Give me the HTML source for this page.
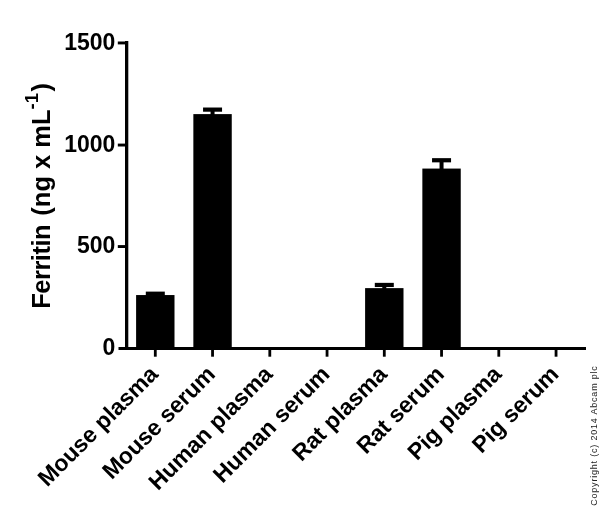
<!DOCTYPE html><html><head><meta charset="utf-8"><style>html,body{margin:0;padding:0;background:#fff}svg{display:block}text{font-family:"Liberation Sans",Arial,sans-serif;font-weight:bold;fill:#000}</style></head><body>
<svg width="600" height="518" viewBox="0 0 600 518">
<rect width="600" height="518" fill="#fff"/>
<rect x="125" y="41" width="3.3" height="309" fill="#000"/>
<rect x="118.5" y="347" width="467.5" height="3" fill="#000"/>
<rect x="117.8" y="245.10" width="8" height="2.9" fill="#000"/>
<rect x="117.8" y="143.60" width="8" height="2.9" fill="#000"/>
<rect x="117.8" y="41.50" width="8" height="2.9" fill="#000"/>
<text x="115.3" y="355.40" font-size="23" text-anchor="end">0</text>
<text x="115.3" y="253.40" font-size="23" text-anchor="end">500</text>
<text x="115.3" y="151.90" font-size="23" text-anchor="end">1000</text>
<text x="115.3" y="49.80" font-size="23" text-anchor="end">1500</text>
<rect x="153.90" y="349" width="2.8" height="7.7" fill="#000"/>
<rect x="136.10" y="295.05" width="38.4" height="53.45" fill="#000"/>
<rect x="153.30" y="293.71" width="4" height="2.35" fill="#000"/>
<rect x="145.80" y="291.61" width="19" height="4.2" fill="#000"/>
<text font-size="23" text-anchor="end" transform="translate(159.30,375.5) rotate(-45)">Mouse plasma</text>
<rect x="211.15" y="349" width="2.8" height="7.7" fill="#000"/>
<rect x="193.35" y="114.10" width="38.4" height="234.40" fill="#000"/>
<rect x="210.55" y="109.62" width="4" height="5.49" fill="#000"/>
<rect x="203.05" y="107.52" width="19" height="4.2" fill="#000"/>
<text font-size="23" text-anchor="end" transform="translate(216.55,375.5) rotate(-45)">Mouse serum</text>
<rect x="268.40" y="349" width="2.8" height="7.7" fill="#000"/>
<text font-size="23" text-anchor="end" transform="translate(273.80,375.5) rotate(-45)">Human plasma</text>
<rect x="325.65" y="349" width="2.8" height="7.7" fill="#000"/>
<text font-size="23" text-anchor="end" transform="translate(331.05,375.5) rotate(-45)">Human serum</text>
<rect x="382.90" y="349" width="2.8" height="7.7" fill="#000"/>
<rect x="365.10" y="288.12" width="38.4" height="60.38" fill="#000"/>
<rect x="382.30" y="284.95" width="4" height="4.16" fill="#000"/>
<rect x="374.80" y="282.85" width="19" height="4.2" fill="#000"/>
<text font-size="23" text-anchor="end" transform="translate(388.30,375.5) rotate(-45)">Rat plasma</text>
<rect x="440.15" y="349" width="2.8" height="7.7" fill="#000"/>
<rect x="422.35" y="168.57" width="38.4" height="179.93" fill="#000"/>
<rect x="439.55" y="160.25" width="4" height="9.32" fill="#000"/>
<rect x="432.05" y="158.15" width="19" height="4.2" fill="#000"/>
<text font-size="23" text-anchor="end" transform="translate(445.55,375.5) rotate(-45)">Rat serum</text>
<rect x="497.40" y="349" width="2.8" height="7.7" fill="#000"/>
<text font-size="23" text-anchor="end" transform="translate(502.80,375.5) rotate(-45)">Pig plasma</text>
<rect x="554.65" y="349" width="2.8" height="7.7" fill="#000"/>
<text font-size="23" text-anchor="end" transform="translate(560.05,375.5) rotate(-45)">Pig serum</text>
<text font-size="25.5" text-anchor="middle" transform="translate(49.5,195.9) rotate(-90)"><tspan style="letter-spacing:-0.5px">Ferritin</tspan><tspan dx="2.2"> (ng x mL</tspan><tspan font-size="18.5" dy="-11.3">-1</tspan><tspan dy="11.3" dx="1.5">)</tspan></text>
<text font-size="9" style="font-weight:normal;fill:#222;letter-spacing:0.8px" transform="translate(597,505.8) rotate(-90)">Copyright (c) 2014 Abcam plc</text>
</svg></body></html>
